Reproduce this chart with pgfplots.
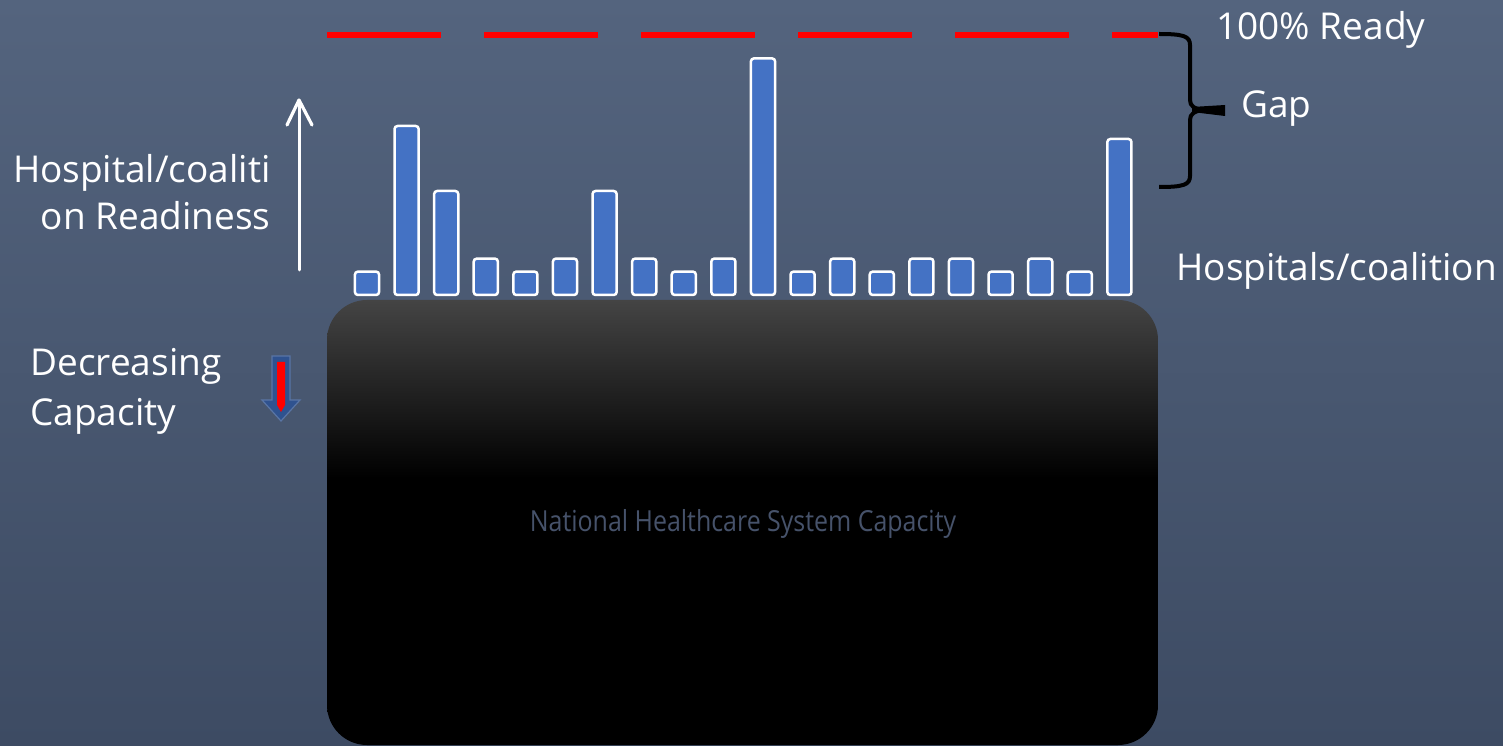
\documentclass[border=0pt]{standalone}
\usepackage{pgfplots}
\pgfplotsset{compat=1.18}
\usepackage{fontspec}
\setmainfont{Open Sans}
\newfontfamily\narrowfont[FakeStretch=0.86]{Open Sans}
\definecolor{bgtop}{RGB}{84,100,126}
\definecolor{bgbot}{RGB}{61,75,99}
\definecolor{barblue}{RGB}{68,114,196}
\definecolor{arrblue}{RGB}{47,82,143}
\definecolor{boxtext}{RGB}{70,82,106}
\definecolor{boxtop}{RGB}{68,68,68}
% 25bp = bottom of the path, 75bp = top of the path
\pgfdeclareverticalshading{capbox}{100bp}{color(0bp)=(black); color(25bp)=(black);
  color(55bp)=(black); color(75bp)=(boxtop); color(100bp)=(boxtop)}
\begin{document}
\begin{tikzpicture}[x=0.5pt,y=0.5pt]
% background (pixel units, y measured from the bottom)
\shade[top color=bgtop, bottom color=bgbot] (0,0) rectangle (1503,745);
% capacity block
\shade[rounded corners=20pt, shading=capbox] (327,0) rectangle (1158,445);
\node[text=boxtext, font=\narrowfont\fontsize{14.5}{17}\selectfont] at (743,221)
  {National Healthcare System Capacity};
% readiness arrow
\draw[white, line width=1.5pt, line cap=round] (299,475) -- (299,644);
\draw[white, line width=1.6pt, line cap=round, line join=round] (287,620) -- (299,645) -- (312,620);
% decreasing capacity arrow
\filldraw[fill=arrblue, draw=arrblue!80!white, line width=0.6pt]
  (272,389) -- (290,389) -- (290,345) -- (300,345) -- (281,324) -- (262,345) -- (272,345) -- cycle;
\fill[red] (277,383) -- (285,383) -- (285,340) -- (281,333) -- (277,340) -- cycle;
% gap brace
\draw[black, line width=2pt] (1159,711) .. controls (1183,711) and (1190,709) .. (1190,700)
  -- (1190,645) .. controls (1190,639) and (1194,636) .. (1204,635);
\draw[black, line width=2pt] (1159,558) .. controls (1183,558) and (1190,560) .. (1190,569)
  -- (1190,625) .. controls (1190,631) and (1194,634) .. (1204,635);
\fill[black] (1192,638) -- (1225,640) -- (1225,629) -- (1192,633) -- cycle;
% labels
\begin{scope}[every node/.style={text=white, inner sep=0pt, font=\fontsize{18.5}{22}\selectfont}]
\node[anchor=base west] at (1216,705) {100\% Ready};
\node[anchor=base west] at (1241,627) {Gap};
\node[anchor=base west] at (1176,464) {Hospitals/coalition};
\node[anchor=base east] at (271,562) {Hospital/coaliti};
\node[anchor=base east] at (271,515) {on Readiness};
\node[anchor=base west] at (30,370) {Decreasing};
\node[anchor=base west] at (30,320) {Capacity};
\end{scope}
% readiness of each hospital/coalition (percent of full readiness)
\begin{axis}[at={(0,0)}, anchor=south west, scale only axis,
  width=751.5pt, height=372.5pt,
  xmin=-8.2677, xmax=29.687, ymin=-173.077, ymax=113.462,
  hide axis, clip=false]
\addplot[ybar, bar width=0.61, bar shift=0pt, fill=barblue, draw=white,
  line width=1.25pt, rounded corners=1.5pt]
  coordinates {(1,9) (2,65) (3,40) (4,14) (5,9) (6,14) (7,40) (8,14) (9,9) (10,14)
  (11,91) (12,9) (13,14) (14,9) (15,14) (16,14) (17,9) (18,14) (19,9) (20,60)};
\addplot[red, line width=3.2pt, dash pattern=on 57pt off 21.5pt]
  coordinates {(-0.0101,100) (20.975,100)};
\end{axis}
\pgfresetboundingbox
\path (0,0) rectangle (1503,745);
\end{tikzpicture}
\end{document}
